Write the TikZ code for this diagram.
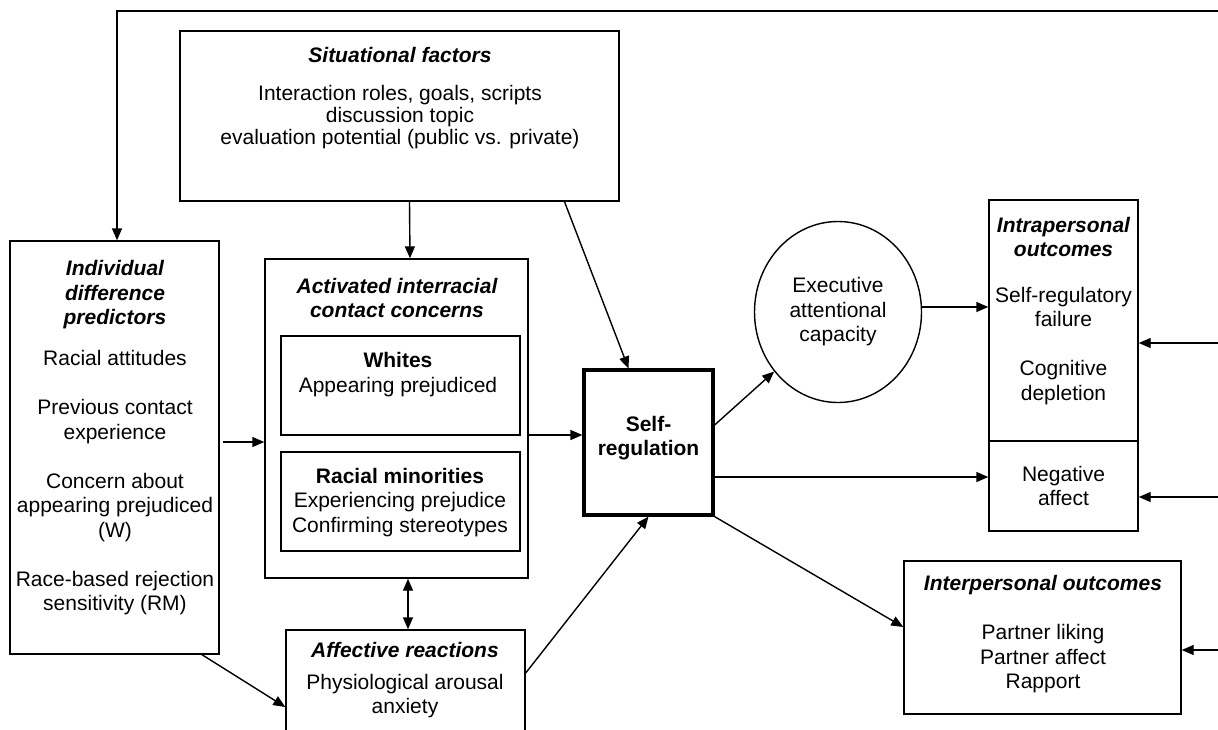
\documentclass[tikz,border=0pt]{standalone}
\usepackage{fontspec}
\setmainfont{Liberation Sans}
\usetikzlibrary{arrows.meta}
\usetikzlibrary{shapes.geometric}

\tikzset{
    box/.style={draw, line width=1.4pt, inner sep=0pt},
    txt/.style={align=center, inner sep=0pt, font=\fontsize{21}{24.5}\selectfont},
    ttl/.style={align=center, inner sep=0pt, font=\fontsize{21}{24.5}\selectfont\bfseries\itshape},
    arr/.style={line width=1.4pt, -{Triangle[length=12pt,width=10pt]}},
    arrb/.style={line width=1.4pt, {Triangle[length=12pt,width=10pt]}-{Triangle[length=12pt,width=10pt]}},
}

\begin{document}
\begin{tikzpicture}[x=1pt,y=-1pt]
                \useasboundingbox (0,0) rectangle (1218,729);
                \clip (0,0) rectangle (1218,729);
                % boxes
                \node[box, minimum width=439pt, minimum height=170pt] (sit) at (399.5,116) {};
                \node[box, minimum width=209pt, minimum height=413pt] (indiv) at (114.5,447.5) {};
                \node[box, minimum width=263pt, minimum height=319pt] (act) at (396.5,418.5) {};
                \node[box, minimum width=239pt, minimum height=99pt] (whites) at (400.5,385.5) {};
                \node[box, minimum width=239pt, minimum height=99pt] (minor) at (400.5,501.5) {};
                \node[box, minimum width=239pt, minimum height=110pt] (aff) at (405.5,685) {};
                \node[box, line width=3.2pt, minimum width=129pt, minimum height=145pt] (self) at (648.5,442.5) {};
                \node[box, ellipse, txt, minimum width=167pt, minimum height=181pt] (exec) at (838,312) {Executive\\attentional\\capacity};
                \node[box, minimum width=149pt, minimum height=241pt] (intra) at (1063.5,320.5) {};
                \node[box, txt, minimum width=149pt, minimum height=90pt] (neg) at (1063.5,486) {Negative\\affect};
                \node[box, minimum width=277pt, minimum height=153pt] (inter) at (1042.5,637.5) {};
                % texts
                \node[ttl] (sitT) at (400,55) {Situational factors};
                \node[txt, font=\fontsize{21}{22}\selectfont] (sitB) at (400,117) {Interaction roles, goals, scripts\\discussion topic\\evaluation potential (public vs. private)};
                \node[ttl] (indivT) at (115,295) {Individual\\difference\\predictors};
                \node[txt] (indivB) at (115,483) {Racial attitudes\\[24.5pt]Previous contact\\experience\\[24.5pt]Concern about\\appearing prejudiced\\(W)\\[24.5pt]Race-based rejection\\sensitivity (RM)};
                \node[ttl] (actT) at (397,298) {Activated interracial\\contact concerns};
                \node[txt] (whitesT) at (398,374.5) {\textbf{Whites}\\Appearing prejudiced};
                \node[txt] (minorT) at (400,502.5) {\textbf{Racial minorities}\\Experiencing prejudice\\Confirming stereotypes};
                \node[ttl] (affT) at (405,650) {Affective reactions};
                \node[txt] (affB) at (405,696) {Physiological arousal\\anxiety};
                \node[txt, font=\fontsize{21}{24.5}\selectfont\bfseries] (selfT) at (648.5,438) {Self-\\regulation};
                \node[ttl] (intraT) at (1063.5,237) {Intrapersonal\\outcomes};
                \node[txt] (intraB) at (1063.5,346) {Self-regulatory\\failure\\[24.5pt]Cognitive\\depletion};
                \node[ttl] (interT) at (1043,585) {Interpersonal outcomes};
                \node[txt] (interB) at (1043,659) {Partner liking\\Partner affect\\Rapport};
                % feedback loop
                \coordinate (fbR) at (1218,11);
                \draw[arr] (fbR) -| ([xshift=2.5pt]indiv.north);
                \foreach \n/\s in {intra/-22.5, neg/-11, inter/-12.5}{
                    \coordinate (r\n) at ([yshift=\s pt]\n.east);
                    \draw[arr] (r\n -| fbR) -- (r\n);}
                % arrows
                \draw[arr] ([xshift=10pt]sit.south) -- ([xshift=13.5pt]act.north);
                \draw[arr] ([xshift=165pt]sit.south) -- ([xshift=-20pt]self.north);
                \draw[arr] ([xshift=3pt,yshift=5.5pt]indiv.east) -- ([yshift=5.5pt]indiv.east -| act.west);
                \coordinate (j1) at ([yshift=7.5pt]self.west);
                \draw[arr] (act.east |- j1) -- (j1);
                \draw[arrb] ([xshift=11.5pt]act.south) -- ([xshift=2.5pt]aff.north);
                \draw[arr] ([xshift=87.5pt]indiv.south) -- ([yshift=-22pt]aff.west);
                \draw[arr] ([yshift=12pt]aff.east) -- (self.south);
                \draw[arr] ([yshift=17.5pt]self.east) -- (exec.223);
                \coordinate (j2) at ([yshift=5pt]exec.east);
                \draw[arr] (j2) -- (j2 -| intra.west);
                \coordinate (j3) at ([yshift=9pt]neg.west);
                \draw[arr] (self.east |- j3) -- (j3);
                \draw[arr] (self.south east) -- ([yshift=10.5pt]inter.west);
\end{tikzpicture}
\end{document}
